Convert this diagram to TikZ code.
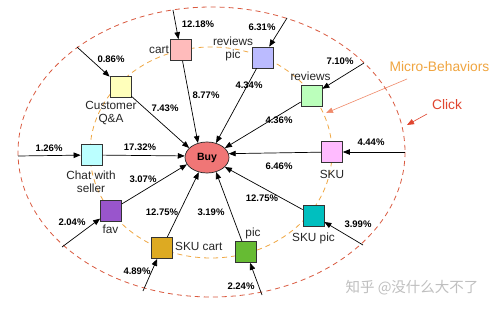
\documentclass[tikz,border=0pt]{standalone}
\usepackage{fontspec}
\setmainfont{Liberation Sans}
\newfontfamily\cjkfont{Noto Sans CJK SC}
\usetikzlibrary{arrows.meta,shapes.geometric}
\definecolor{outerred}{HTML}{DA5A40}
\definecolor{innerorange}{HTML}{F0A845}
\definecolor{microcol}{HTML}{F0A540}
\definecolor{microarr}{HTML}{F08A6A}
\definecolor{clickcol}{HTML}{E0452F}
\definecolor{cCart}{HTML}{FFBBBB}
\definecolor{cRevPic}{HTML}{BBBBFF}
\definecolor{cRev}{HTML}{BBFFBB}
\definecolor{cSKU}{HTML}{FFBBFF}
\definecolor{cSKUpic}{HTML}{00BFBF}
\definecolor{cPic}{HTML}{66BB33}
\definecolor{cSKUcart}{HTML}{DDAA22}
\definecolor{cFav}{HTML}{9955CC}
\definecolor{cChat}{HTML}{BBFFFF}
\definecolor{cQA}{HTML}{FFFFBB}
\definecolor{cBuy}{HTML}{F07676}
\begin{document}
\begin{tikzpicture}[x=1pt,y=-1pt,
  box/.style={draw=black!80, line width=0.7pt, minimum size=21pt, inner sep=0pt},
  lbl/.style={font=\fontsize{11.8}{13}\selectfont, text=black!85, align=center, inner sep=0pt},
  pct/.style={font=\bfseries\fontsize{9.5}{11}\selectfont, inner sep=0pt},
  arr/.style={-{Triangle[length=7pt,width=5.5pt]}, line width=0.7pt, black},
  sidearr/.style={-{Triangle[length=7pt,width=5.5pt]}, line width=0.6pt}]
\useasboundingbox (0,0) rectangle (493,310);
\fill[white] (0,0) rectangle (493,310);
% ellipses
\draw[outerred, line width=0.8pt, dash pattern=on 5pt off 4pt] (211.5,152) ellipse [x radius=193.5, y radius=145];
\draw[innerorange, line width=0.8pt, dash pattern=on 5pt off 4pt] (211,152.5) ellipse [x radius=121, y radius=105.5];
% boxes
\node[box, fill=cCart]    (cart)   at (180.5,50)  {};
\node[box, fill=cRevPic]  (revpic) at (262.5,57.5) {};
\node[box, fill=cRev]     (rev)    at (311.5,95.5) {};
\node[box, fill=cSKU]     (sku)    at (332,152)   {};
\node[box, fill=cSKUpic]  (skupic) at (313.5,215.5) {};
\node[box, fill=cPic]     (pic)    at (246,252)   {};
\node[box, fill=cSKUcart] (skucart) at (162,248)  {};
\node[box, fill=cFav]     (fav)    at (111,210.5) {};
\node[box, fill=cChat]    (chat)   at (91.5,155)  {};
\node[box, fill=cQA]      (qa)     at (120.5,86.5) {};
\node[draw=black!85, line width=0.7pt, fill=cBuy, ellipse, minimum width=44pt, minimum height=31pt, inner sep=0pt,
      font=\bfseries\fontsize{10.5}{12}\selectfont] (buy) at (207,157.5) {Buy};
% labels
\node[lbl, anchor=east] (tcart) at (169,50) {cart};
\node[lbl] (trevpic) at (233,48.5) {reviews\\pic};
\node[lbl] (trev) at (310.5,76) {reviews};
\node[lbl] (tsku) at (332,174) {SKU};
\node[lbl] (tskupic) at (313.5,238) {SKU pic};
\node[lbl] (tpic) at (253,233) {pic};
\node[lbl, anchor=west] (tskucart) at (175,246.5) {SKU cart};
\node[lbl] (tfav) at (110.5,229) {fav};
\node[lbl] (tchat) at (91,181.5) {Chat with\\seller};
\node[lbl] (tqa) at (111,112.5) {Customer\\Q\&A};
% outer start points
\coordinate (ocart) at (173,10);
\coordinate (oqa) at (77,47);
\coordinate (orevpic) at (287,18);
\coordinate (orev) at (364,63);
\coordinate (osku) at (405,152);
\coordinate (oskupic) at (363,245);
\coordinate (opic) at (262,295);
\coordinate (oskucart) at (143,291);
\coordinate (ofav) at (62,247);
\coordinate (ochat) at (18,156);
% outer arrows
\draw[arr] (ocart) -- (cart);
\draw[arr] (oqa) -- (qa);
\draw[arr] (orevpic) -- (revpic);
\draw[arr] (orev) -- (rev);
\draw[arr] (osku) -- (sku);
\draw[arr] (oskupic) -- (skupic);
\draw[arr] (opic) -- (pic);
\draw[arr] (oskucart) -- (skucart);
\draw[arr] (ofav) -- (fav);
\draw[arr] (ochat) -- (chat);
% arrows to Buy
\draw[arr] (cart) -- (buy.122);
\draw[arr] (revpic) -- (buy.58);
\draw[arr] (rev) -- (buy.28);
\draw[arr] (sku) -- (buy.10);
\draw[arr] (skupic) -- (buy.-28);
\draw[arr] (pic) -- (buy.-58);
\draw[arr] (skucart) -- (buy.-119);
\draw[arr] (fav) -- (buy.-161);
\draw[arr] (chat) -- (buy.176);
\draw[arr] (qa) -- (buy.152);
% percentages
\node[pct] (p1) at (198,24) {12.18\%};
\node[pct] (p2) at (111,59) {0.86\%};
\node[pct] (p3) at (262,27) {6.31\%};
\node[pct] (p4) at (340,61) {7.10\%};
\node[pct] (p5) at (371,142) {4.44\%};
\node[pct] (p6) at (358,224) {3.99\%};
\node[pct] (p7) at (241,286) {2.24\%};
\node[pct] (p8) at (137,271) {4.89\%};
\node[pct] (p9) at (72,222) {2.04\%};
\node[pct] (p10) at (49,148) {1.26\%};
\node[pct] (p11) at (206,95) {8.77\%};
\node[pct] (p12) at (165,108) {7.43\%};
\node[pct] (p13) at (249,85) {4.34\%};
\node[pct] (p14) at (279,120) {4.36\%};
\node[pct] (p15) at (140,147) {17.32\%};
\node[pct] (p16) at (279,166) {6.46\%};
\node[pct] (p17) at (262,198) {12.75\%};
\node[pct] (p18) at (211,212) {3.19\%};
\node[pct] (p19) at (162,212) {12.75\%};
\node[pct] (p20) at (143,179) {3.07\%};
% legend texts and arrows
\node[font=\fontsize{13.8}{15}\selectfont, text=microcol, inner sep=0pt] (micro) at (439.5,66.5) {Micro-Behaviors};
\node[font=\fontsize{13.8}{15}\selectfont, text=clickcol, inner sep=0pt] (click) at (447,105) {Click};
\coordinate (mstart) at (407,79);
\coordinate (mend) at (326,113);
\coordinate (cstart) at (427,114);
\coordinate (cend) at (407,125);
\draw[sidearr, microarr] (mstart) -- (mend);
\draw[sidearr, clickcol] (cstart) -- (cend);
% watermark
\node[font=\cjkfont\fontsize{14.5}{16}\selectfont, text=black!25, inner sep=0pt] (wm) at (412,288) {知乎 @没什么大不了};
\end{tikzpicture}
\end{document}
